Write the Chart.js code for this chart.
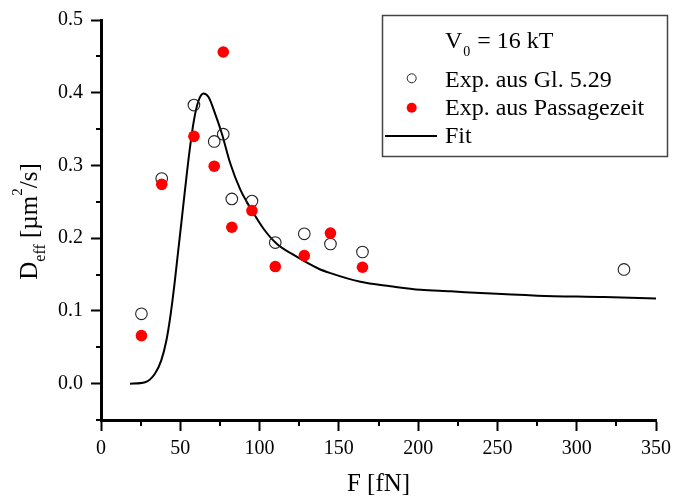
<!DOCTYPE html>
<html lang="de">
<head>
<meta charset="UTF-8">
<title>D_eff gegen F</title>
<script src="https://cdn.jsdelivr.net/npm/chart.js"></script>
<style>
  html, body { margin: 0; padding: 0; background: #fff; }
  #wrap { width: 674px; height: 503px; }
</style>
</head>
<body>
<div id="wrap"><canvas id="chart" width="674" height="503"></canvas></div>
<script>
// Messwerte: D_eff aus Gl. 5.29 (offene Kreise)
const glX = [25.5, 38.3, 58.6, 71.4, 77.1, 82.5, 95.2, 109.9, 128.2, 144.7, 164.9, 329.8];
const glY = [0.096, 0.282, 0.383, 0.333, 0.343, 0.254, 0.251, 0.194, 0.206, 0.192, 0.181, 0.157];

// Messwerte: D_eff aus der Passagezeit (rote Punkte)
const passX = [25.5, 38.3, 58.6, 71.4, 77.1, 82.5, 95.2, 109.9, 128.2, 144.7, 164.9];
const passY = [0.066, 0.274, 0.340, 0.299, 0.456, 0.215, 0.238, 0.161, 0.176, 0.207, 0.160];

const fitX = [18.3, 27.8, 34.1, 38.0, 41.2, 43.9, 46.3, 48.6, 50.0, 52.8, 55.9, 58.6, 61.5, 64.6,
              67.8, 72.0, 76.2, 81.5, 87.8, 95.2, 102.5, 111.0, 121.5, 137.3, 144.7, 163.6,
              182.6, 201.5, 220.5, 239.4, 275.2, 317.3, 350.0];
const fitY = [0.000, 0.002, 0.014, 0.032, 0.059, 0.095, 0.136, 0.181, 0.208, 0.263, 0.321, 0.362, 0.389, 0.399,
              0.394, 0.371, 0.344, 0.303, 0.267, 0.238, 0.213, 0.192, 0.177, 0.158, 0.152, 0.140,
              0.134, 0.129, 0.127, 0.1245, 0.121, 0.119, 0.117];

// Achsen
const xMajor = [0, 50, 100, 150, 200, 250, 300, 350];
const yMajor = ['0.0', '0.1', '0.2', '0.3', '0.4', '0.5'];

const SERIF = '"Liberation Serif", "Times New Roman", serif';
const pts = (xs, ys) => xs.map((x, i) => ({ x: x, y: ys[i] }));
const isMajorY = v => yMajor.indexOf(v.toFixed(1)) >= 0 && Math.abs(Math.round(v * 100) % 10) === 0;
const isMajorX = v => xMajor.indexOf(v) >= 0;

// Nebenstriche, Achsentitel und Legende
const decor = {
  id: 'decor',
  afterDraw(chart) {
    const c = chart.ctx;
    const xs = chart.scales.x, ys = chart.scales.y;
    const a = chart.chartArea;
    c.save();
    c.strokeStyle = '#000';
    c.lineWidth = 2;
    xs.ticks.forEach(t => {
      if (isMajorX(t.value)) return;
      const px = Math.round(xs.getPixelForValue(t.value));
      c.beginPath(); c.moveTo(px, a.bottom); c.lineTo(px, a.bottom + 6); c.stroke();
    });
    ys.ticks.forEach(t => {
      if (isMajorY(t.value)) return;
      const py = Math.round(ys.getPixelForValue(t.value));
      c.beginPath(); c.moveTo(a.left, py); c.lineTo(a.left - 5, py); c.stroke();
    });

    c.fillStyle = '#000';
    c.textBaseline = 'alphabetic';

    // x-Titel
    c.font = '25px ' + SERIF;
    c.textAlign = 'center';
    c.fillText('F [fN]', (a.left + a.right) / 2, 491);

    // y-Titel mit Index und Exponent
    const parts = [
      { t: 'D', f: 25, dy: 0 },
      { t: 'eff', f: 16, dy: 8 },
      { t: ' [\u00b5m', f: 25, dy: 0 },
      { t: '2', f: 15, dy: -15 },
      { t: '/s]', f: 25, dy: 0 }
    ];
    c.textAlign = 'left';
    let total = 0;
    parts.forEach(p => { c.font = p.f + 'px ' + SERIF; p.w = c.measureText(p.t).width; total += p.w; });
    c.translate(37, 221.5);
    c.rotate(-Math.PI / 2);
    let cx = -total / 2;
    parts.forEach(p => { c.font = p.f + 'px ' + SERIF; c.fillText(p.t, cx, p.dy); cx += p.w; });
    c.setTransform(1, 0, 0, 1, 0, 0);

    // Legende
    c.strokeStyle = '#444';
    c.lineWidth = 1.5;
    c.strokeRect(382.5, 15.5, 285, 141);
    c.font = '24px ' + SERIF;
    c.fillText('V', 445, 48);
    const vw = c.measureText('V').width;
    c.font = '14px ' + SERIF;
    c.fillText('0', 445 + vw + 1, 56);
    const zw = c.measureText('0').width;
    c.font = '24px ' + SERIF;
    c.fillText(' = 16 kT', 445 + vw + zw + 2, 48);

    c.lineWidth = 1;
    c.strokeStyle = '#222';
    c.beginPath(); c.arc(411.7, 78.3, 4.5, 0, 2 * Math.PI); c.stroke();
    c.fillText('Exp. aus Gl. 5.29', 445, 87);

    c.fillStyle = '#ff0000';
    c.beginPath(); c.arc(411.7, 107.7, 5, 0, 2 * Math.PI); c.fill();
    c.fillStyle = '#000';
    c.fillText('Exp. aus Passagezeit', 445, 115);

    c.strokeStyle = '#000';
    c.lineWidth = 2;
    c.beginPath(); c.moveTo(385, 136); c.lineTo(437, 136); c.stroke();
    c.fillText('Fit', 445, 143);
    c.restore();
  }
};

const tickFont = { family: SERIF, size: 20 };

new Chart(document.getElementById('chart'), {
  type: 'scatter',
  data: {
    datasets: [
      {
        label: 'Exp. aus Passagezeit',
        data: pts(passX, passY),
        pointRadius: 5.8,
        pointBackgroundColor: '#ff0000',
        pointBorderWidth: 0,
        order: 0
      },
      {
        label: 'Exp. aus Gl. 5.29',
        data: pts(glX, glY),
        pointRadius: 5.8,
        pointBackgroundColor: 'rgba(0,0,0,0)',
        pointBorderColor: '#222',
        pointBorderWidth: 1.1,
        order: 1
      },
      {
        label: 'Fit',
        data: pts(fitX, fitY),
        showLine: true,
        borderColor: '#000',
        borderWidth: 2,
        pointRadius: 0,
        cubicInterpolationMode: 'monotone',
        fill: false,
        order: 2
      }
    ]
  },
  options: {
    responsive: false,
    animation: false,
    layout: { padding: { top: 14, right: 18, left: 0, bottom: 0 } },
    plugins: { legend: { display: false }, tooltip: { enabled: false } },
    scales: {
      x: {
        type: 'linear', min: 0, max: 350,
        afterFit: s => { s.height = 83; s.paddingLeft = 0; s.paddingRight = 0; },
        ticks: {
          stepSize: 25, autoSkip: false, maxRotation: 0, color: '#000', font: tickFont, padding: 6,
          callback: v => isMajorX(v) ? String(v) : ''
        },
        grid: {
          drawOnChartArea: false, drawTicks: true, tickLength: 11, tickWidth: 2,
          tickColor: ctx => isMajorX(ctx.tick.value) ? '#000' : 'rgba(0,0,0,0)'
        },
        border: { color: '#000', width: 3 }
      },
      y: {
        type: 'linear', min: -0.05, max: 0.5,
        afterFit: s => { s.width = 101; },
        ticks: {
          stepSize: 0.05, autoSkip: false, color: '#000', font: tickFont, padding: 8,
          callback: v => isMajorY(v) ? v.toFixed(1) : ''
        },
        grid: {
          drawOnChartArea: false, drawTicks: true, tickLength: 10, tickWidth: 2,
          tickColor: ctx => isMajorY(ctx.tick.value) ? '#000' : 'rgba(0,0,0,0)'
        },
        border: { color: '#000', width: 3 }
      }
    }
  },
  plugins: [decor]
});
</script>
</body>
</html>
